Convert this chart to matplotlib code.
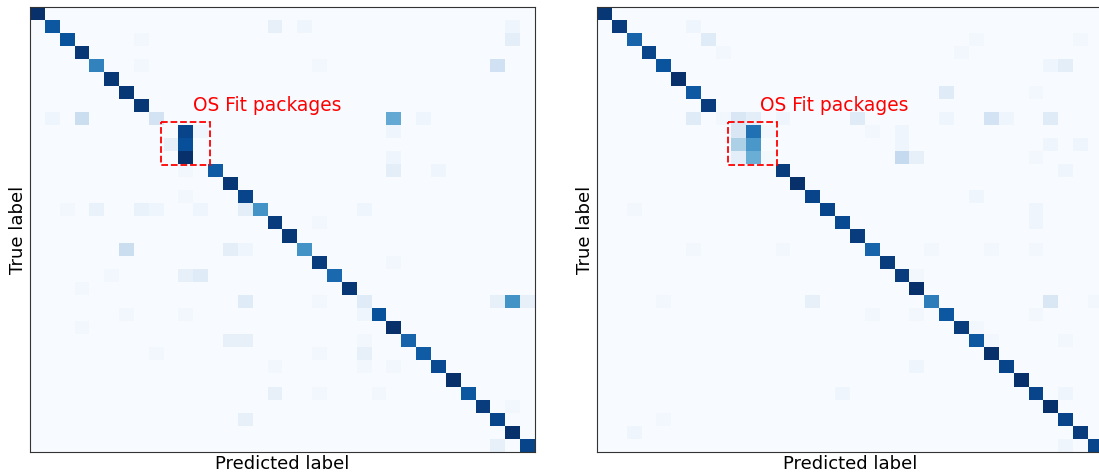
import numpy as np
import matplotlib
matplotlib.use("Agg")
import matplotlib.pyplot as plt
from matplotlib.patches import Rectangle

n_classes = 34

# normalised confusion matrices: diagonal + off-diagonal (row, col, value)
left_diag = [1.0, 0.85, 0.87, 0.97, 0.68, 0.97, 0.97, 0.97, 0.18, 0.0,
             0.88, 0.0, 0.83, 0.97, 0.92, 0.62, 0.95, 0.97, 0.62, 0.95,
             0.78, 0.97, 0.12, 0.87, 1.0, 0.8, 0.83, 0.9, 1.0, 0.85,
             0.95, 0.92, 1.0, 0.92]
left_off = [(1, 16, 0.08), (1, 18, 0.04), (1, 32, 0.04),
            (2, 7, 0.03), (2, 32, 0.1),
            (4, 7, 0.03), (4, 19, 0.03), (4, 31, 0.2),
            (8, 1, 0.04), (8, 3, 0.22), (8, 24, 0.52), (8, 26, 0.04),
            (9, 10, 0.92), (9, 11, 0.04), (9, 24, 0.04),
            (10, 9, 0.08),
            (11, 10, 1.0), (11, 24, 0.04),
            (12, 10, 0.03), (12, 24, 0.1), (12, 27, 0.04),
            (14, 10, 0.03),
            (15, 2, 0.03), (15, 4, 0.07), (15, 7, 0.07), (15, 8, 0.04),
            (15, 11, 0.04), (15, 14, 0.1), (15, 22, 0.04),
            (16, 19, 0.03),
            (18, 6, 0.22), (18, 13, 0.1), (18, 14, 0.04),
            (19, 24, 0.03),
            (20, 5, 0.03), (20, 10, 0.08), (20, 11, 0.12),
            (21, 3, 0.03),
            (22, 14, 0.12), (22, 19, 0.03), (22, 31, 0.08), (22, 32, 0.62), (22, 33, 0.08),
            (23, 6, 0.03), (23, 10, 0.03), (23, 22, 0.04),
            (24, 3, 0.03),
            (25, 13, 0.08), (25, 14, 0.08), (25, 22, 0.03),
            (26, 8, 0.03), (26, 19, 0.03), (26, 22, 0.08),
            (27, 16, 0.03), (27, 22, 0.03), (27, 24, 0.03),
            (29, 16, 0.08), (29, 19, 0.03), (29, 23, 0.03),
            (30, 32, 0.03),
            (31, 14, 0.08),
            (33, 31, 0.08)]

right_diag = [0.97, 0.95, 0.8, 0.92, 0.86, 1.0, 0.84, 0.95, 0.03, 0.15,
              0.6, 0.02, 0.95, 1.0, 0.92, 0.92, 0.9, 0.95, 0.8, 0.95,
              0.95, 1.0, 0.7, 0.85, 0.95, 0.85, 1.0, 0.92, 1.0, 0.92,
              1.0, 0.92, 0.95, 0.92]
right_off = [(1, 6, 0.04),
             (2, 7, 0.12), (2, 25, 0.03), (2, 32, 0.03),
             (3, 8, 0.03), (3, 24, 0.03),
             (4, 30, 0.04), (4, 31, 0.1),
             (6, 23, 0.12), (6, 29, 0.03),
             (8, 6, 0.12), (8, 9, 0.15), (8, 10, 0.1), (8, 12, 0.04), (8, 17, 0.12),
             (8, 23, 0.04), (8, 26, 0.18), (8, 27, 0.04), (8, 30, 0.12),
             (9, 10, 0.75), (9, 11, 0.03), (9, 18, 0.03), (9, 20, 0.04),
             (10, 9, 0.33), (10, 20, 0.04), (10, 30, 0.04), (10, 32, 0.04),
             (11, 9, 0.1), (11, 10, 0.5), (11, 20, 0.25), (11, 21, 0.08), (11, 29, 0.03),
             (12, 31, 0.04),
             (14, 25, 0.04),
             (15, 2, 0.03), (15, 29, 0.04),
             (16, 29, 0.04),
             (18, 6, 0.03), (18, 12, 0.03), (18, 22, 0.03), (18, 26, 0.03), (18, 29, 0.03),
             (20, 21, 0.03),
             (22, 4, 0.03), (22, 14, 0.08), (22, 30, 0.15), (22, 33, 0.03),
             (23, 18, 0.03), (23, 21, 0.03), (23, 29, 0.03),
             (24, 25, 0.03),
             (25, 26, 0.03), (25, 31, 0.03),
             (27, 21, 0.04),
             (29, 16, 0.04), (29, 31, 0.04),
             (31, 4, 0.03),
             (32, 2, 0.04),
             (33, 31, 0.04)]

box_start = 8.3
box_size = 3.3
annot_text = "OS Fit packages"


def build_matrix(diag, off):
    cm = np.zeros((n_classes, n_classes))
    cm[np.arange(n_classes), np.arange(n_classes)] = diag
    for r, c, v in off:
        cm[r, c] = v
    return cm


def draw_cm(ax, cm):
    ax.imshow(cm, cmap="Blues", vmin=0, vmax=1, aspect="auto",
              interpolation="nearest")
    ax.set_xticks([])
    ax.set_yticks([])
    ax.set_xlabel("Predicted label", fontsize=13, labelpad=2)
    ax.set_ylabel("True label", fontsize=13, labelpad=2)
    ax.add_patch(Rectangle((box_start, box_start), box_size, box_size,
                           fill=False, edgecolor="red", linestyle="--",
                           linewidth=1.3))
    ax.text(10.5, 7.0, annot_text, color="red", fontsize=13.4, va="center")
    for s in ax.spines.values():
        s.set_color("#333333")


fig = plt.figure(figsize=(10.99, 4.75), dpi=100)
ax1 = fig.add_axes([0.0273, 0.0484, 0.4595, 0.9368])
ax2 = fig.add_axes([0.5430, 0.0484, 0.4604, 0.9368])

draw_cm(ax1, build_matrix(left_diag, left_off))
draw_cm(ax2, build_matrix(right_diag, right_off))

fig.savefig("out.png", dpi=100)
